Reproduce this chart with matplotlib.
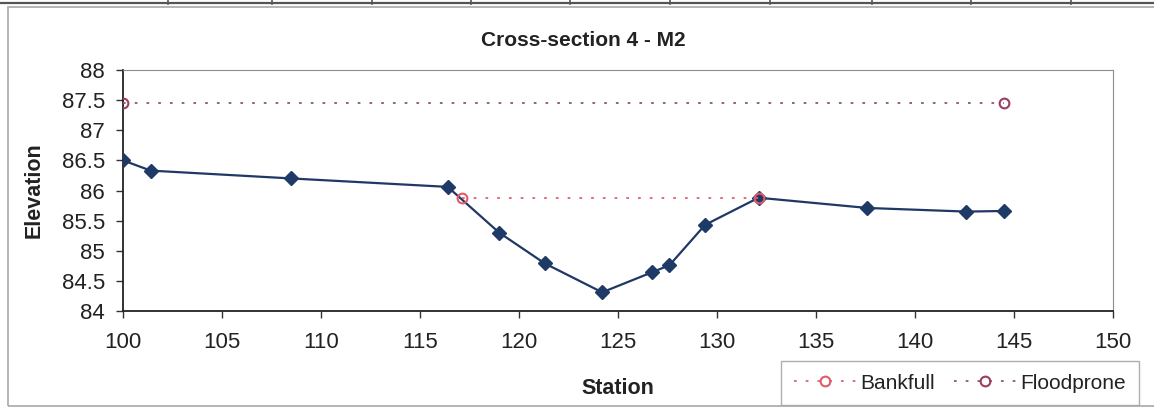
from matplotlib import pyplot as plt
from matplotlib.patches import Rectangle
from matplotlib.lines import Line2D

plt.rcParams['font.family'] = ['Liberation Sans', 'DejaVu Sans']

# surveyed ground profile
station = [100, 101.4, 108.5, 116.4, 119.0, 121.3, 124.2, 126.7, 127.6, 129.4, 132.1, 137.6, 142.6, 144.5]
elevation = [86.5, 86.33, 86.2, 86.06, 85.3, 84.79, 84.31, 84.64, 84.76, 85.43, 85.88, 85.71, 85.65, 85.66]

# bankfull and floodprone water levels
bankfull_x = [117.1, 132.1]
bankfull_y = [85.87, 85.87]
floodprone_x = [100, 144.5]
floodprone_y = [87.45, 87.45]

W, H = 1154, 411
fig = plt.figure(figsize=(W / 100, H / 100), dpi=100)

# spreadsheet grid remnants and chart frame
fig.add_artist(Line2D([0, 1], [1 - 3 / H, 1 - 3 / H], color='#555555', lw=1.6))
for px in [168, 272, 372, 471, 570, 670, 770, 872, 971, 1071]:
    fig.add_artist(Line2D([px / W, px / W], [1 - 4 / H, 1], color='#555555', lw=1.2))
fig.add_artist(Rectangle((8 / W, 5 / H), 1.2, 1 - 12 / H, transform=fig.transFigure,
                         fill=False, edgecolor='#a8a8a8', lw=1.2))

ax = fig.add_axes([123 / W, 1 - 311 / H, (1113 - 123) / W, (311 - 70) / H])

ax.plot(station, elevation, color='#1f3864', lw=1.6, marker='D', markersize=7,
        markerfacecolor='#1f3a66', markeredgecolor='#1f3a66', zorder=3)
ax.plot(bankfull_x, bankfull_y, color='#e06070', lw=1.3, linestyle=(0, (1.5, 5)),
        marker='o', markersize=7, markerfacecolor='none', markeredgecolor='#e05a6a',
        markeredgewidth=1.5, label='Bankfull', zorder=4)
ax.plot(floodprone_x, floodprone_y, color='#8a5a70', lw=1.3, linestyle=(0, (1.5, 5)),
        marker='o', markersize=7, markerfacecolor='none', markeredgecolor='#9b3d62',
        markeredgewidth=1.5, label='Floodprone', zorder=4)

ax.set_xlim(100, 150)
ax.set_ylim(84, 88)
ax.set_xticks(range(100, 151, 5))
ax.set_yticks([84, 84.5, 85, 85.5, 86, 86.5, 87, 87.5, 88])
ax.set_yticklabels(['84', '84.5', '85', '85.5', '86', '86.5', '87', '87.5', '88'])
ax.tick_params(axis='both', direction='out', length=5, width=1, colors='#333333',
               labelsize=16, labelcolor='#222222')
ax.tick_params(axis='x', pad=10)
ax.tick_params(axis='y', pad=8)

for side in ['top', 'right']:
    ax.spines[side].set_color('#8c8c8c')
for side in ['left', 'bottom']:
    ax.spines[side].set_color('#222222')
    ax.spines[side].set_linewidth(1.3)

ax.set_xlabel('Station', fontsize=15.5, fontweight='bold', color='#222222', labelpad=18)
ax.set_ylabel('Elevation', fontsize=15.5, fontweight='bold', color='#222222', labelpad=12)

fig.text(583 / W, 1 - 40 / H, 'Cross-section 4 - M2', fontsize=15, fontweight='bold',
         color='#222222', ha='center', va='center')

leg = ax.legend(loc='center', ncol=2, fontsize=15, numpoints=1, handlelength=3.0,
                handletextpad=0.2, columnspacing=0.9, frameon=True, fancybox=False,
                bbox_to_anchor=(786 / W, 5 / H, 348 / W, 46 / H),
                bbox_transform=fig.transFigure, borderpad=0.6, borderaxespad=0)
leg.get_frame().set_edgecolor('#9a9a9a')
leg.get_frame().set_linewidth(1.0)
for t in leg.get_texts():
    t.set_color('#222222')

fig.savefig('out.png', dpi=100)
